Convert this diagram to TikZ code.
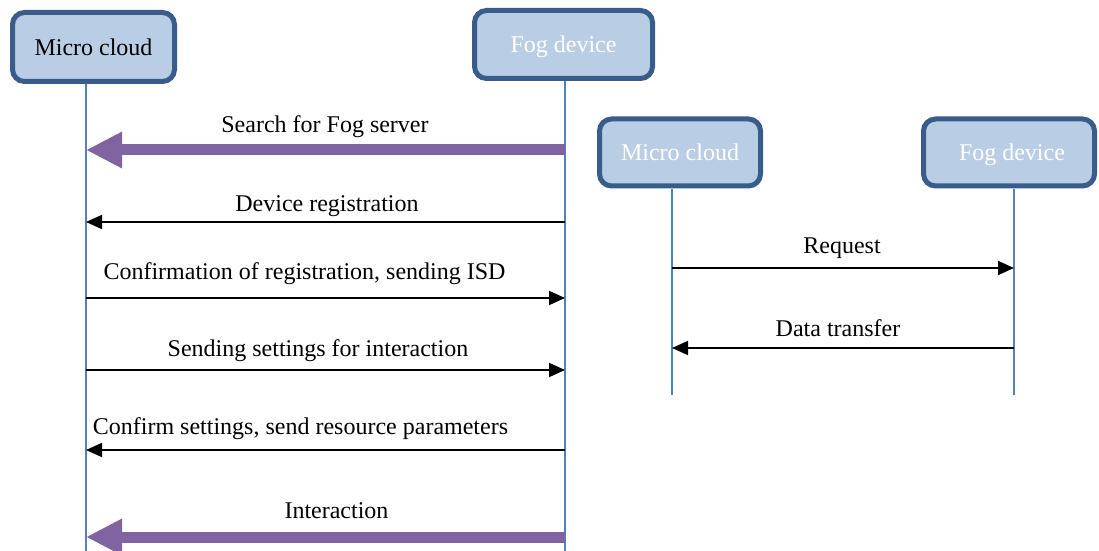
\documentclass[tikz,border=0pt]{standalone}
\usepackage{fontspec}
\setmainfont{Liberation Serif}
\usetikzlibrary{arrows.meta}
\definecolor{boxfill}{HTML}{B9CDE5}
\definecolor{boxline}{HTML}{385D8A}
\definecolor{lifeline}{HTML}{4F81BD}
\definecolor{bigarrow}{HTML}{8064A2}
\tikzset{
  actor/.style={draw=boxline, line width=2.5pt, fill=boxfill, rounded corners=6pt,
    inner sep=0pt, text depth=0pt, font=\fontsize{12}{14}\selectfont},
  lifelinestyle/.style={draw=lifeline, line width=0.9pt},
  msg/.style={draw=black, line width=0.9pt, -{Triangle[length=8pt,width=7pt]}},
  bigmsg/.style={draw=bigarrow, line width=5.5pt, -{Triangle[length=18pt,width=17pt]}},
  lbl/.style={anchor=base, inner sep=0pt, font=\fontsize{12}{14}\selectfont}
}
\begin{document}
\begin{tikzpicture}[x=0.5pt, y=-0.5pt]
\useasboundingbox (0,0) rectangle (1099,551);

% participants of the left diagram
\node[actor, minimum width=81pt, minimum height=34.5pt] (mcA) at (93.5,47) {Micro cloud};
\node[actor, minimum width=89pt, minimum height=34pt, text=white] (fdA) at (563.5,44.5) {Fog device};
% participants of the right diagram
\node[actor, minimum width=80.5pt, minimum height=33.5pt, text=white] (mcB) at (680,152.5) {Micro cloud};
\node[actor, minimum width=85.5pt, minimum height=33.5pt, text=white] (fdB) at (1009,152.5) {\hspace*{3pt}Fog device};

% lifelines
\coordinate (mcAtop) at (86,84);   \coordinate (mcAbot) at (86,551);
\coordinate (fdAtop) at (565,81);  \coordinate (fdAbot) at (565,551);
\coordinate (mcBtop) at (672,189); \coordinate (mcBbot) at (672,395);
\coordinate (fdBtop) at (1014,189);\coordinate (fdBbot) at (1014,395);
\path[lifelinestyle] (mcAtop) -- (mcAbot);
\path[lifelinestyle] (fdAtop) -- (fdAbot);
\path[lifelinestyle] (mcBtop) -- (mcBbot);
\path[lifelinestyle] (fdBtop) -- (fdBbot);

% message end points on the lifelines
\coordinate (m1L) at (86,150);  \coordinate (m1R) at (565,150);
\coordinate (m2L) at (86,222);  \coordinate (m2R) at (565,222);
\coordinate (m3L) at (86,298);  \coordinate (m3R) at (565,298);
\coordinate (m4L) at (86,370);  \coordinate (m4R) at (565,370);
\coordinate (m5L) at (86,450);  \coordinate (m5R) at (565,450);
\coordinate (m6L) at (86,537);  \coordinate (m6R) at (565,537);
\coordinate (r1L) at (672,268); \coordinate (r1R) at (1014,268);
\coordinate (r2L) at (672,348); \coordinate (r2R) at (1014,348);

% messages of the left diagram
\draw[bigmsg] (m1R) -- (m1L);
\node[lbl] (t1) at (325,133) {Search for Fog server};
\draw[msg] (m2R) -- (m2L);
\node[lbl] (t2) at (327,212) {Device registration};
\draw[msg] (m3L) -- (m3R);
\node[lbl] (t3) at (304.5,279) {Confirmation of registration, sending ISD};
\draw[msg] (m4L) -- (m4R);
\node[lbl] (t4) at (318,356) {Sending settings for interaction};
\draw[msg] (m5R) -- (m5L);
\node[lbl] (t5) at (300.5,434) {Confirm settings, send resource parameters};
\draw[bigmsg] (m6R) -- (m6L);
\node[lbl] (t6) at (336.5,518) {Interaction};

% messages of the right diagram
\draw[msg] (r1L) -- (r1R);
\node[lbl] (t7) at (842,254) {Request};
\draw[msg] (r2R) -- (r2L);
\node[lbl] (t8) at (838,336) {Data transfer};
\end{tikzpicture}
\end{document}
